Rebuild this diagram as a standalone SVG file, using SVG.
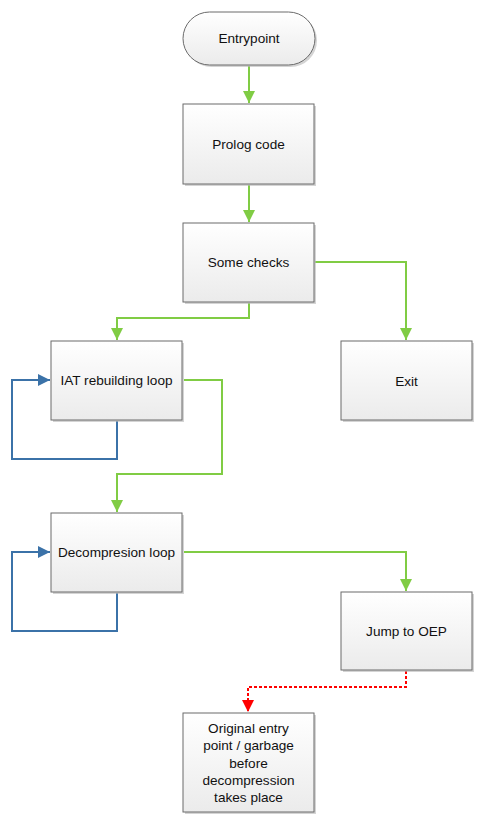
<svg xmlns="http://www.w3.org/2000/svg" width="482" height="823" viewBox="0 0 482 823">
<style>
.box{fill:url(#g);stroke:#6b6b6b;stroke-width:1}
.sh{fill:#b8b8b8;opacity:0.6}
.t{font-family:"Liberation Sans","Open Sans",sans-serif;font-size:13.6px;fill:#111111;text-anchor:middle;dominant-baseline:central}
.gr{fill:none;stroke:#80cc44;stroke-width:2}
.bl{fill:none;stroke:#3b72a8;stroke-width:2}
.rd{fill:none;stroke:#ff0000;stroke-width:2;stroke-dasharray:3,2}
</style>
<defs>
<linearGradient id="g" x1="0" y1="0" x2="0" y2="1">
<stop offset="0" stop-color="#ffffff"/>
<stop offset="1" stop-color="#ebebeb"/>
</linearGradient>
<marker id="ag" viewBox="0 0 10 10" refX="10" refY="5" markerWidth="6" markerHeight="6" orient="auto" markerUnits="strokeWidth"><path d="M0,0 L10,5 L0,10 z" fill="#80cc44"/></marker>
<marker id="ab" viewBox="0 0 10 10" refX="10" refY="5" markerWidth="6" markerHeight="6" orient="auto" markerUnits="strokeWidth"><path d="M0,0 L10,5 L0,10 z" fill="#3b72a8"/></marker>
<marker id="ar" viewBox="0 0 10 10" refX="10" refY="5" markerWidth="6" markerHeight="6" orient="auto" markerUnits="strokeWidth"><path d="M0,0 L10,5 L0,10 z" fill="#ff0000"/></marker>
</defs>
<rect width="482" height="823" fill="#ffffff"/>
<g id="connectors">
<path class="gr" d="M249,66 V103" marker-end="url(#ag)"/>
<path class="gr" d="M249,185 V222" marker-end="url(#ag)"/>
<path class="gr" d="M249,303 V318 H117 V340" marker-end="url(#ag)"/>
<path class="gr" d="M315,262 H406 V340" marker-end="url(#ag)"/>
<path class="gr" d="M184,380 H222 V474 H117 V512" marker-end="url(#ag)"/>
<path class="bl" d="M117,421 V459 H12 V380 H50" marker-end="url(#ab)"/>
<path class="gr" d="M184,552 H406 V591" marker-end="url(#ag)"/>
<path class="bl" d="M117,593 V631 H12 V552 H50" marker-end="url(#ab)"/>
<path class="rd" d="M406,671 V687 H248 V712" marker-end="url(#ar)"/>
</g>
<g id="entrypoint">
<rect class="sh" x="185" y="14" width="132" height="53" rx="26.5"/>
<rect class="box" x="183" y="12" width="132" height="53" rx="26.5"/>
<text class="t" x="249" y="38">Entrypoint</text>
</g>
<g id="prolog">
<rect class="sh" x="185" y="106" width="131" height="80"/>
<rect class="box" x="183" y="104" width="131" height="80"/>
<text class="t" x="248.5" y="144">Prolog code</text>
</g>
<g id="checks">
<rect class="sh" x="185" y="225" width="131" height="79"/>
<rect class="box" x="183" y="223" width="131" height="79"/>
<text class="t" x="248.5" y="262">Some checks</text>
</g>
<g id="exit">
<rect class="sh" x="343" y="343" width="131" height="79"/>
<rect class="box" x="341" y="341" width="131" height="79"/>
<text class="t" x="406.5" y="381">Exit</text>
</g>
<g id="iat">
<rect class="sh" x="53" y="343" width="131" height="79"/>
<rect class="box" x="51" y="341" width="131" height="79"/>
<text class="t" x="116.5" y="380">IAT rebuilding loop</text>
</g>
<g id="decomp">
<rect class="sh" x="53" y="515" width="131" height="79"/>
<rect class="box" x="51" y="513" width="131" height="79"/>
<text class="t" x="116.5" y="552">Decompresion loop</text>
</g>
<g id="jump">
<rect class="sh" x="343" y="594" width="131" height="78"/>
<rect class="box" x="341" y="592" width="131" height="78"/>
<text class="t" x="406.5" y="631">Jump to OEP</text>
</g>
<g id="oep">
<rect class="sh" x="185" y="715" width="131" height="99"/>
<rect class="box" x="183" y="713" width="131" height="99"/>
<text class="t" x="248.5" y="728">Original entry</text>
<text class="t" x="248.5" y="745.5">point / garbage</text>
<text class="t" x="248.5" y="763">before</text>
<text class="t" x="248.5" y="780">decompression</text>
<text class="t" x="248.5" y="797.5">takes place</text>
</g>
</svg>
